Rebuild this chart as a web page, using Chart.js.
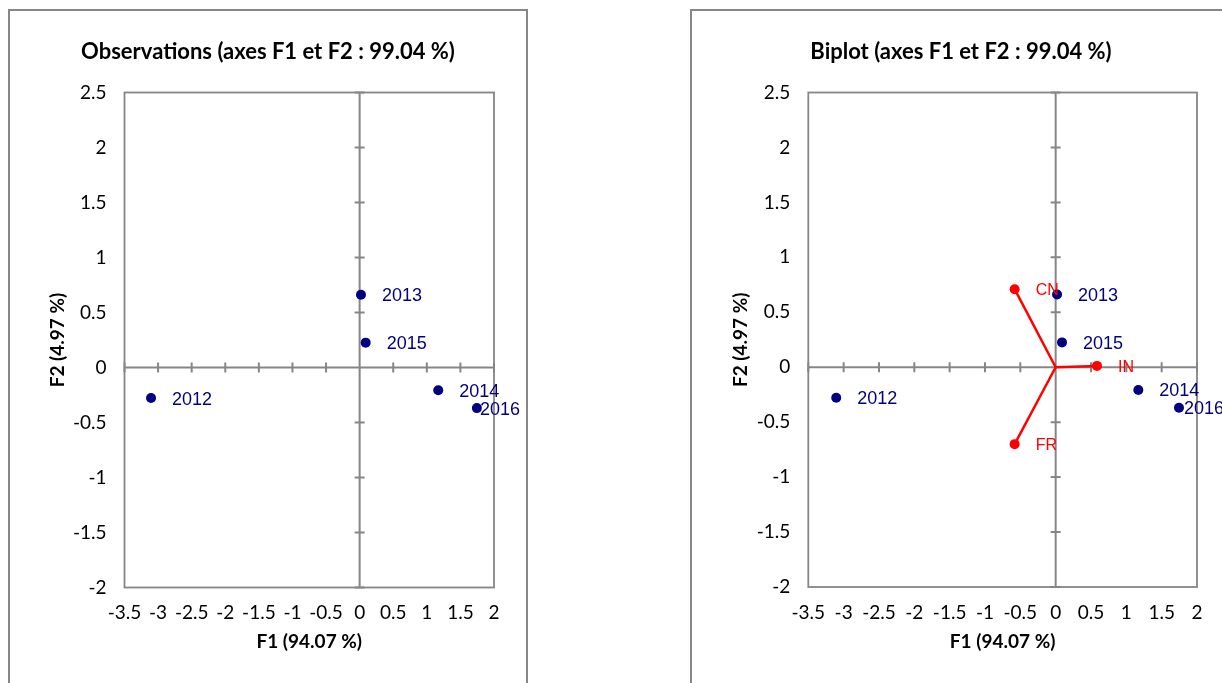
<!DOCTYPE html>
<html>
<head>
<meta charset="utf-8">
<title>ACP – Observations et Biplot</title>
<script src="https://cdn.jsdelivr.net/npm/chart.js@4/dist/chart.umd.min.js"></script>
<style>
  html, body { margin: 0; padding: 0; background: #fff; width: 1222px; height: 683px; overflow: hidden; }
  .panel { position: absolute; top: 9px; height: 700px; border: 2px solid #878787; box-sizing: border-box; background: #fff; }
  #panel-obs { left: 8px; width: 520px; }
  #panel-bi { left: 690px; width: 542px; }
  .panel canvas { position: absolute; left: 0; top: 0; }
</style>
</head>
<body>
<div class="panel" id="panel-obs"><canvas id="obs" width="516" height="696"></canvas></div>
<div class="panel" id="panel-bi"><canvas id="bi" width="538" height="696"></canvas></div>
<script>
// Observations (years) on the first two principal axes
const obsLabels = ['2012', '2013', '2014', '2015', '2016'];
const obsF1 = [-3.105, 0.02, 1.17, 0.09, 1.745];
const obsF2 = [-0.278, 0.661, -0.207, 0.226, -0.369];

// Variables (vectors from the origin in the biplot)
const varLabels = ['CN', 'FR', 'IN'];
const varF1 = [-0.58, -0.58, 0.585];
const varF2 = [0.71, -0.70, 0.012];

// Axis ticks
const xTicks = [-3.5, -3, -2.5, -2, -1.5, -1, -0.5, 0, 0.5, 1, 1.5, 2];
const yTicks = [-2, -1.5, -1, -0.5, 0, 0.5, 1, 1.5, 2, 2.5];

const titleObs = 'Observations (axes F1 et F2 : 99.04 %)';
const titleBi = 'Biplot (axes F1 et F2 : 99.04 %)';
const xTitle = 'F1 (94.07 %)';
const yTitle = 'F2 (4.97 %)';

const NAVY = '#000080';
const RED = '#FF0000';
const GREY = '#868686';
const UI_FONT = 'Lato, "Open Sans", sans-serif';
const LABEL_FONT = '"Liberation Sans", Arial, sans-serif';

// Draws the panel title, the plot frame and the crossing axes with their tick marks
const frameAndAxes = {
  id: 'frameAndAxes',
  beforeDatasetsDraw(chart, args, opts) {
    const { ctx, chartArea: a, scales: { x, y } } = chart;
    ctx.save();
    ctx.fillStyle = '#000';
    ctx.font = 'bold 22px ' + UI_FONT;
    ctx.textAlign = 'center';
    ctx.textBaseline = 'middle';
    ctx.fillText(opts.title, chart.width / 2, opts.titleY);

    ctx.strokeStyle = GREY;
    ctx.lineWidth = 1.8;
    ctx.strokeRect(a.left, a.top, a.right - a.left, a.bottom - a.top);

    const x0 = x.getPixelForValue(0);
    const y0 = y.getPixelForValue(0);
    ctx.lineWidth = 2;
    ctx.beginPath();
    ctx.moveTo(x0, a.top); ctx.lineTo(x0, a.bottom);
    ctx.moveTo(a.left, y0); ctx.lineTo(a.right, y0);
    const t = 5;
    xTicks.forEach(v => {
      const px = x.getPixelForValue(v);
      ctx.moveTo(px, y0 - t); ctx.lineTo(px, y0 + t);
    });
    yTicks.forEach(v => {
      const py = y.getPixelForValue(v);
      ctx.moveTo(x0 - t, py); ctx.lineTo(x0 + t, py);
    });
    ctx.stroke();
    ctx.restore();
  }
};

// Writes each point's name to its right, kept inside the canvas
const pointNames = {
  id: 'pointNames',
  afterDatasetsDraw(chart) {
    const { ctx } = chart;
    ctx.save();
    ctx.textAlign = 'left';
    ctx.textBaseline = 'middle';
    chart.data.datasets.forEach((ds, i) => {
      if (!ds.names) return;
      const meta = chart.getDatasetMeta(i);
      ctx.font = ds.nameFont;
      ctx.fillStyle = ds.nameColor;
      meta.data.forEach((el, j) => {
        const name = ds.names[j];
        if (!name) return;
        const w = ctx.measureText(name).width;
        const tx = Math.min(el.x + 21, chart.width - 6 - w);
        ctx.fillText(name, tx, el.y + 1.5);
      });
    });
    ctx.restore();
  }
};

function makePanel(canvasId, title, datasets, geom) {
  const axisTitleFont = { family: UI_FONT, size: 19, weight: 'bold' };
  const tickFont = { family: UI_FONT, size: 19 };
  const xH = 66;
  return new Chart(document.getElementById(canvasId), {
    type: 'scatter',
    data: { datasets },
    options: {
      responsive: false,
      animation: false,
      events: [],
      layout: {
        padding: {
          left: 0,
          top: geom.plotTop,
          right: geom.width - geom.plotRight,
          bottom: geom.height - geom.plotBottom - xH
        }
      },
      plugins: {
        legend: { display: false },
        tooltip: { enabled: false },
        title: { display: false },
        frameAndAxes: { title, titleY: 41 }
      },
      scales: {
        x: {
          type: 'linear',
          min: xTicks[0],
          max: xTicks[xTicks.length - 1],
          afterBuildTicks: s => { s.ticks = xTicks.map(v => ({ value: v })); },
          afterFit: s => { s.height = xH; },
          grid: { display: false, drawTicks: false },
          border: { display: false },
          ticks: { color: '#000', font: tickFont, padding: 14, maxRotation: 0, autoSkip: false, callback: v => String(v) },
          title: { display: true, text: xTitle, color: '#000', font: axisTitleFont, padding: { top: 0, bottom: 0 } }
        },
        y: {
          type: 'linear',
          min: yTicks[0],
          max: yTicks[yTicks.length - 1],
          afterBuildTicks: s => { s.ticks = yTicks.map(v => ({ value: v })); },
          afterFit: s => { s.width = geom.plotLeft; },
          grid: { display: false, drawTicks: false },
          border: { display: false },
          ticks: { color: '#000', font: tickFont, padding: 18, autoSkip: false, callback: v => String(v) },
          title: { display: true, text: yTitle, color: '#000', font: axisTitleFont, padding: { top: geom.plotLeft - 67 - 11.4, bottom: 0 } }
        }
      }
    },
    plugins: [frameAndAxes, pointNames]
  });
}

function observationDataset() {
  return {
    label: 'Observations',
    data: obsLabels.map((_, i) => ({ x: obsF1[i], y: obsF2[i] })),
    names: obsLabels,
    nameFont: '18px ' + LABEL_FONT,
    nameColor: NAVY,
    backgroundColor: NAVY,
    borderWidth: 0,
    pointRadius: 5,
    showLine: false
  };
}

function variableDatasets() {
  return varLabels.map((name, i) => ({
    label: name,
    data: [{ x: 0, y: 0 }, { x: varF1[i], y: varF2[i] }],
    names: [null, name],
    nameFont: '16px ' + LABEL_FONT,
    nameColor: RED,
    showLine: true,
    borderColor: RED,
    borderWidth: 2.5,
    backgroundColor: RED,
    pointBorderWidth: 0,
    pointRadius: [0, 5]
  }));
}

makePanel('obs', titleObs, [observationDataset()],
  { width: 516, height: 696, plotLeft: 114.5, plotRight: 484, plotTop: 81.5, plotBottom: 576.5 });

makePanel('bi', titleBi, [observationDataset(), ...variableDatasets()],
  { width: 538, height: 696, plotLeft: 116.3, plotRight: 505, plotTop: 81.5, plotBottom: 576 });
</script>
</body>
</html>
